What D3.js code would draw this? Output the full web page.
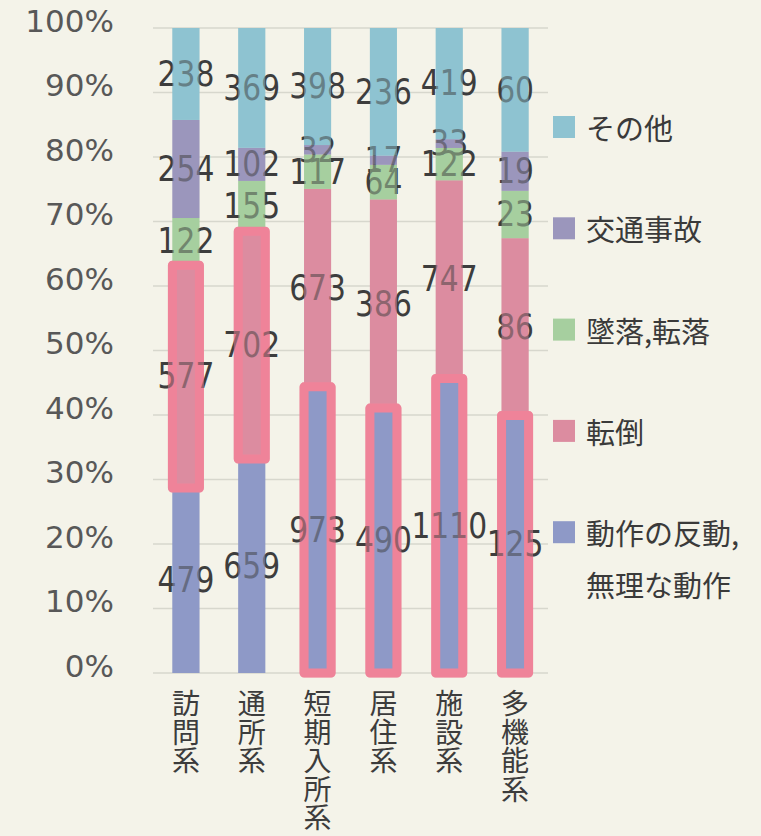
<!DOCTYPE html>
<html lang="ja">
<head>
    <meta charset="utf-8">
    <title>介護事業別 労働災害の内訳</title>
    <script src="https://d3js.org/d3.v7.min.js"></script>
    <style>
        html, body { margin: 0; padding: 0; background: #f4f3e9; }
        svg { display: block; }
    </style>
</head>
<body>
<script>
    // categories (x axis, shown vertically)
    const categories = ["訪問系", "通所系", "短期入所系", "居住系", "施設系", "多機能系"];

    // series, bottom to top of each bar
    const seriesNames = ["動作の反動,無理な動作", "転倒", "墜落,転落", "交通事故", "その他"];
    const motion  = [479, 659, 973, 490, 1110, 125];   // 動作の反動,無理な動作
    const fall    = [577, 702, 673, 386, 747, 86];     // 転倒
    const drop    = [122, 155, 117, 64, 122, 23];      // 墜落,転落
    const traffic = [254, 102, 32, 17, 33, 19];        // 交通事故
    const other   = [238, 369, 398, 236, 419, 60];     // その他

    const yTicks = [0, 0.1, 0.2, 0.3, 0.4, 0.5, 0.6, 0.7, 0.8, 0.9, 1];

    // legend order (top to bottom)
    const legendOrder = ["その他", "交通事故", "墜落,転落", "転倒", "動作の反動,無理な動作"];
    const legendLines = {
        "動作の反動,無理な動作": ["動作の反動,", "無理な動作"]
    };

    const colors = {
        "動作の反動,無理な動作": "#8e99c7",
        "転倒": "#dc8ca0",
        "墜落,転落": "#a6cf9f",
        "交通事故": "#9b96bc",
        "その他": "#8ec3d1"
    };
    const highlight = "#ef8399";
    const numFont = "'DejaVu Sans', Verdana, sans-serif";
    const jpFont = "'Noto Sans CJK JP', sans-serif";

    // build table for the stack
    const seriesValues = [motion, fall, drop, traffic, other];
    const table = categories.map((c, i) => {
        const row = { cat: c };
        seriesNames.forEach((s, k) => { row[s] = seriesValues[k][i]; });
        return row;
    });

    const W = 761, H = 836;
    const svg = d3.select("body").append("svg")
        .attr("width", W).attr("height", H);

    const x = d3.scaleBand()
        .domain(categories)
        .range([153, 548])
        .paddingInner(0.59)
        .paddingOuter(0.295);

    const y = d3.scaleLinear().domain([0, 1]).range([673, 28]);

    // gridlines
    svg.append("g").selectAll("line")
        .data(yTicks).enter().append("line")
        .attr("x1", 153).attr("x2", 548)
        .attr("y1", d => y(d)).attr("y2", d => y(d))
        .attr("stroke", "#d7d7cd").attr("stroke-width", 1.5);

    // y axis
    const yAxis = svg.append("g")
        .attr("transform", "translate(114,0)")
        .call(d3.axisLeft(y).tickValues(yTicks).tickFormat(d3.format(".0%")).tickSize(0).tickPadding(0));
    yAxis.select(".domain").remove();
    yAxis.selectAll("text")
        .style("font-family", numFont)
        .style("font-size", "31px")
        .attr("fill", "#585858")
        .attr("dy", "-0.17em")
        .attr("dominant-baseline", "middle");

    // stack and normalise
    const stacked = d3.stack().keys(seriesNames).offset(d3.stackOffsetExpand)(table);
    const segments = [];
    stacked.forEach(layer => {
        layer.forEach(d => {
            segments.push({ key: layer.key, cat: d.data.cat, y0: d[0], y1: d[1], value: d.data[layer.key] });
        });
    });
    // largest segment of each bar gets the highlighter outline
    const maxOf = {};
    table.forEach(r => { maxOf[r.cat] = d3.max(seriesNames, s => r[s]); });

    function drawBars(g) {
        g.selectAll("rect.seg")
            .data(segments).enter().append("rect")
            .attr("class", "seg")
            .attr("x", d => x(d.cat))
            .attr("width", x.bandwidth())
            .attr("y", d => y(d.y1))
            .attr("height", d => y(d.y0) - y(d.y1))
            .attr("fill", d => colors[d.key]);
        g.selectAll("rect.hl")
            .data(segments.filter(d => d.value === maxOf[d.cat])).enter().append("rect")
            .attr("class", "hl")
            .attr("x", d => x(d.cat))
            .attr("width", x.bandwidth())
            .attr("y", d => y(d.y1))
            .attr("height", d => y(d.y0) - y(d.y1))
            .attr("fill", "none")
            .attr("stroke", highlight)
            .attr("stroke-width", 9)
            .attr("stroke-linejoin", "round");
    }

    drawBars(svg.append("g"));

    // data labels
    svg.append("g").selectAll("text")
        .data(segments).enter().append("text")
        .attr("transform", d => `translate(${x(d.cat) + x.bandwidth() / 2},${y((d.y0 + d.y1) / 2)}) scale(0.85,1)`)
        .attr("text-anchor", "middle")
        .attr("dominant-baseline", "central")
        .style("font-family", numFont)
        .style("font-size", "35px")
        .attr("fill", "#3d3d3d")
        .text(d => d.value);

    // bars printed over the labels, lightening the digits on them
    drawBars(svg.append("g").attr("opacity", 0.5));

    // category labels, written vertically
    const catG = svg.append("g");
    categories.forEach(c => {
        const t = catG.append("text")
            .attr("text-anchor", "middle")
            .attr("dominant-baseline", "central")
            .style("font-family", jpFont)
            .style("font-size", "28px")
            .attr("fill", "#3c3c3c");
        Array.from(c).forEach((ch, j) => {
            t.append("tspan")
                .attr("x", x(c) + x.bandwidth() / 2)
                .attr("y", 702 + j * 28.5)
                .text(ch);
        });
    });

    // legend
    const legend = svg.append("g");
    legendOrder.forEach((s, i) => {
        const cy = 127 + i * 101.3;
        legend.append("rect")
            .attr("x", 553).attr("y", cy - 11)
            .attr("width", 22).attr("height", 22)
            .attr("fill", colors[s]);
        const lines = legendLines[s] || [s];
        lines.forEach((ln, j) => {
            legend.append("text")
                .attr("x", 586).attr("y", cy + j * 52)
                .attr("dominant-baseline", "central")
                .style("font-family", jpFont)
                .style("font-size", "29px")
                .attr("fill", "#3a3a3a")
                .text(ln);
        });
    });
</script>
</body>
</html>
